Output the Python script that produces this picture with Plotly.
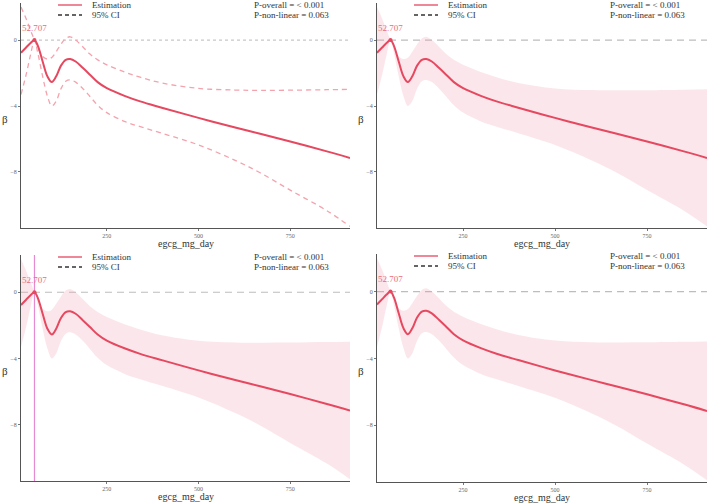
import plotly.graph_objects as go

# ---------------- data ----------------
x_vals = [16, 30, 42, 52.707, 62, 75, 88, 100, 112, 125, 138, 150, 165, 185, 204, 225, 250,
          300, 341, 400, 500, 600, 668, 750, 850, 913]
est = [-0.77, -0.45, -0.18, 0.0, -0.35, -1.3, -2.2, -2.55, -2.2, -1.55, -1.2, -1.15, -1.3, -1.7,
       -2.1, -2.55, -2.92, -3.4, -3.72, -4.1, -4.72, -5.3, -5.68, -6.15, -6.75, -7.15]
upper = [2.0, 1.3, 0.6, 0.0, -0.45, -1.0, -1.15, -1.05, -0.7, -0.25, 0.1, 0.2, 0.0, -0.42,
         -0.85, -1.2, -1.5, -1.95, -2.25, -2.6, -2.93, -3.03, -3.05, -3.04, -3.01, -2.99]
lower = [-3.3, -2.1, -0.9, 0.0, -0.8, -2.2, -3.4, -4.0, -3.7, -2.95, -2.5, -2.42, -2.55, -2.95,
         -3.42, -3.95, -4.4, -4.95, -5.25, -5.65, -6.36, -7.3, -8.05, -9.1, -10.35, -11.3]
ref_x = 52.707
ref_label = "52.707"
x_ticks = [250, 500, 750]
y_ticks = [0, -4, -8]
x_title = "egcg_mg_day"
y_title = "β"
legend_labels = ["Estimation", "95% CI"]
p_texts = ["P-overall = < 0.001", "P-non-linear = 0.063"]

# ---------------- style ----------------
W, H = 709, 503
RED = "#E5485F"
CI_LINE = "#F4A3AD"
BAND = "rgba(240,150,170,0.24)"
SERIF = "Liberation Serif, Times New Roman, serif"

# panel pixel boxes: (left, right, top, bottom)
boxes = [(21, 350, 3, 228), (377, 707, 3, 228), (21, 350, 255, 481), (377, 707, 254, 482)]

fig = go.Figure()
shapes, annos = [], []

for i, (l, r, t, b) in enumerate(boxes):
    n = i + 1
    xa = "x" if n == 1 else f"x{n}"
    ya = "y" if n == 1 else f"y{n}"
    xk = "xaxis" if n == 1 else f"xaxis{n}"
    yk = "yaxis" if n == 1 else f"yaxis{n}"

    if n == 1:
        fig.add_trace(go.Scatter(x=x_vals, y=upper, mode="lines", line=dict(color=CI_LINE, width=1.3, dash="5px,4px", shape="spline"),
                                 xaxis=xa, yaxis=ya, showlegend=False, hoverinfo="skip"))
        fig.add_trace(go.Scatter(x=x_vals, y=lower, mode="lines", line=dict(color=CI_LINE, width=1.3, dash="5px,4px", shape="spline"),
                                 xaxis=xa, yaxis=ya, showlegend=False, hoverinfo="skip"))
    else:
        fig.add_trace(go.Scatter(x=x_vals, y=lower, mode="lines", line=dict(width=0, shape="spline"),
                                 xaxis=xa, yaxis=ya, showlegend=False, hoverinfo="skip"))
        fig.add_trace(go.Scatter(x=x_vals, y=upper, mode="lines", line=dict(width=0, shape="spline"),
                                 fill="tonexty", fillcolor=BAND,
                                 xaxis=xa, yaxis=ya, showlegend=False, hoverinfo="skip"))
    fig.add_trace(go.Scatter(x=x_vals, y=est, mode="lines", line=dict(color=RED, width=2, shape="spline"),
                             xaxis=xa, yaxis=ya, showlegend=False))
    fig.add_trace(go.Scatter(x=[ref_x], y=[0], mode="markers", marker=dict(color=RED, size=4),
                             xaxis=xa, yaxis=ya, showlegend=False))

    fig.update_layout(**{
        xk: dict(domain=[l / W, r / W], range=[16, 913], tickvals=x_ticks,
                 showline=True, linecolor="#555", linewidth=1.3, showgrid=False, zeroline=False,
                 ticks="outside", ticklen=2, tickcolor="#777", tickfont=dict(size=6, color="#666", family=SERIF),
                 anchor=ya),
        yk: dict(domain=[1 - b / H, 1 - t / H], range=[-11.4, 2.25], tickvals=y_ticks,
                 showline=True, linecolor="#555", linewidth=1.3, showgrid=False, zeroline=False,
                 ticks="outside", ticklen=2, tickcolor="#777", tickfont=dict(size=6, color="#666", family=SERIF),
                 anchor=xa),
    })

    # zero reference line
    shapes.append(dict(type="line", xref=f"{xa} domain", yref=ya, x0=0, x1=1, y0=0, y1=0,
                       line=dict(color="#C8C8C8" if n == 1 else "#BDBDBD", width=1.2,
                                 dash="dot" if n == 1 else "7px,5px"), layer="below"))
    if n == 3:
        shapes.append(dict(type="line", xref=xa, yref=f"{ya} domain", x0=ref_x, x1=ref_x, y0=0, y1=1,
                           line=dict(color="#E68AD4", width=1.2), layer="below"))

    # legend drawn manually
    pw, ph = r - l, b - t
    lx0 = (58 - 21) / pw
    lx1 = (82 - 21) / pw
    ly1 = 1 - 2 / ph
    ly2 = 1 - 12 / ph
    shapes.append(dict(type="line", xref=f"{xa} domain", yref=f"{ya} domain", x0=lx0, x1=lx1, y0=ly1, y1=ly1,
                       line=dict(color=RED, width=1.3)))
    shapes.append(dict(type="line", xref=f"{xa} domain", yref=f"{ya} domain", x0=lx0, x1=lx1, y0=ly2, y1=ly2,
                       line=dict(color="#333", width=1.3, dash="4px,3px")))
    tx = (90 - 21) / pw
    for lab, yy in zip(legend_labels, [ly1, ly2]):
        annos.append(dict(text=lab, xref=f"{xa} domain", yref=f"{ya} domain", x=tx, y=yy, xanchor="left",
                          yanchor="middle", showarrow=False, font=dict(size=9, color="#333", family=SERIF)))
    px = (252 - 21) / pw
    for lab, yy in zip(p_texts, [ly1, ly2]):
        annos.append(dict(text=lab, xref=f"{xa} domain", yref=f"{ya} domain", x=px, y=yy, xanchor="left",
                          yanchor="middle", showarrow=False, font=dict(size=9, color="#333", family=SERIF)))
    # reference label
    annos.append(dict(text=ref_label, xref=xa, yref=ya, x=ref_x, y=0.75, xanchor="center", yanchor="middle",
                      showarrow=False, font=dict(size=9, color="#EA6A7E", family=SERIF)))
    # axis titles
    annos.append(dict(text=x_title, xref="paper", yref="paper", x=(l + r) / 2 / W, y=1 - (b + 15) / H,
                      xanchor="center", yanchor="middle", showarrow=False,
                      font=dict(size=10, color="#333", family=SERIF)))
    annos.append(dict(text=y_title, xref="paper", yref="paper", x=(l - 16) / W, y=1 - ((t + b) / 2 + 3) / H,
                      xanchor="center", yanchor="middle", showarrow=False,
                      font=dict(size=11, color="#333", family=SERIF)))

fig.update_layout(width=W, height=H, margin=dict(l=0, r=0, t=0, b=0),
                  paper_bgcolor="white", plot_bgcolor="white",
                  shapes=shapes, annotations=annos, showlegend=False)

fig.write_html("out.html")
